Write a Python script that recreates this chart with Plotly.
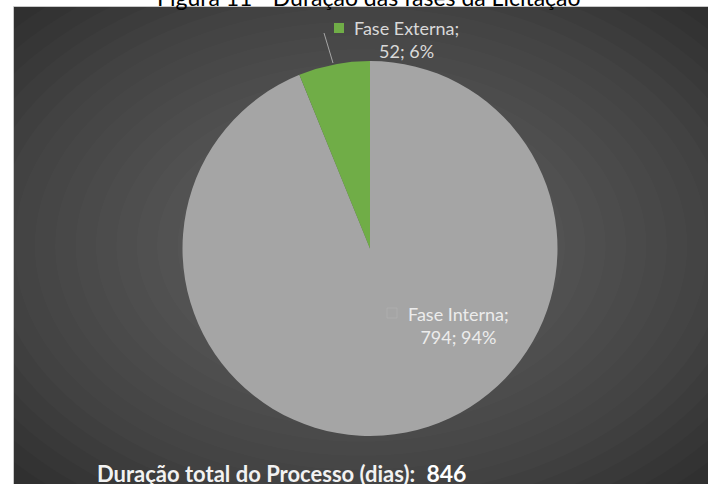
import plotly.graph_objects as go

# ---- data ----
categories = ["Fase Interna", "Fase Externa"]
values = [794, 52]
percent_labels = ["94%", "6%"]
slice_colors = ["#A5A5A5", "#70AD47"]
title_text = "Figura 11 - Duração das fases da Licitação"
total_label = "Duração total do Processo (dias):"
total_value = 846

W, H = 708, 484


def px(x):
    return x / W


def py(y):
    return 1 - y / H


fig = go.Figure()

cx, cy, r = 370, 248.5, 187.5
fig.add_trace(go.Pie(
    labels=categories,
    values=values,
    sort=False,
    direction="clockwise",
    rotation=0,
    marker=dict(colors=slice_colors, line=dict(width=0)),
    textinfo="none",
    hoverinfo="label+value+percent",
    showlegend=False,
    domain=dict(x=[px(cx - r), px(cx + r)], y=[py(cy + r), py(cy - r)]),
))

shapes = []
# dark chart area
x0, y0, x1, y1 = 14, 7, 730, 500
shapes.append(dict(type="rect", xref="paper", yref="paper", layer="below",
                   x0=px(x0), x1=px(x1), y0=py(y1), y1=py(y0),
                   fillcolor="#2d2d2d", line=dict(width=0)))
# radial gradient approximation (white over white margin is invisible)
mx, my = (14 + 708) / 2, (7 + 484) / 2
hw, hh = (708 - 14) / 2, (484 - 7) / 2
n = 24
for i in range(n):
    f = 1.41 * (1 - i / n)
    shapes.append(dict(type="circle", xref="paper", yref="paper", layer="below",
                       x0=px(mx - hw * f), x1=px(mx + hw * f),
                       y0=py(my + hh * f), y1=py(my - hh * f),
                       fillcolor="rgba(255,255,255,0.0145)", line=dict(width=0)))
# thin light border on top/left of chart area
shapes.append(dict(type="line", xref="paper", yref="paper", layer="below",
                   x0=px(13.5), x1=px(13.5), y0=py(500), y1=py(6.5),
                   line=dict(color="#c8c8c8", width=1)))
shapes.append(dict(type="line", xref="paper", yref="paper", layer="below",
                   x0=px(13.5), x1=px(730), y0=py(6.5), y1=py(6.5),
                   line=dict(color="#c8c8c8", width=1)))
# leader line for Fase Externa
shapes.append(dict(type="line", xref="paper", yref="paper",
                   x0=px(324), y0=py(33), x1=px(333), y1=py(63),
                   line=dict(color="#a6a6a6", width=1)))
# legend keys in data labels
shapes.append(dict(type="rect", xref="paper", yref="paper",
                   x0=px(334), x1=px(344), y0=py(33), y1=py(23),
                   fillcolor=slice_colors[1], line=dict(width=0)))
shapes.append(dict(type="rect", xref="paper", yref="paper",
                   x0=px(387), x1=px(397), y0=py(318), y1=py(308),
                   fillcolor=slice_colors[0], line=dict(color="#b5b5b5", width=0.5)))

font_fam = "Lato, 'Open Sans', sans-serif"
annotations = [
    dict(text=title_text, x=px(369), y=py(-3), xref="paper", yref="paper",
         showarrow=False, xanchor="center", yanchor="middle",
         font=dict(family=font_fam, size=23, color="#000000")),
    dict(text=f"{categories[1]};<br>{values[1]}; {percent_labels[1]}",
         x=px(406), y=py(40), xref="paper", yref="paper",
         showarrow=False, xanchor="center", yanchor="middle", align="center",
         font=dict(family=font_fam, size=18, color="#d9d9d9")),
    dict(text=f"{categories[0]};<br>{values[0]}; {percent_labels[0]}",
         x=px(458), y=py(325), xref="paper", yref="paper",
         showarrow=False, xanchor="center", yanchor="middle", align="center",
         font=dict(family=font_fam, size=18, color="#ececec")),
    dict(text=f"<b>{total_label}</b>  <b><span style='color:#ffffff;font-size:23px'>{total_value}</span></b>",
         x=px(95), y=py(473), xref="paper", yref="paper",
         showarrow=False, xanchor="left", yanchor="middle",
         font=dict(family=font_fam, size=22, color="#f2f2f2")),
]

fig.update_layout(
    width=W, height=H,
    margin=dict(l=0, r=0, t=0, b=0),
    paper_bgcolor="#ffffff",
    plot_bgcolor="#ffffff",
    shapes=shapes,
    annotations=annotations,
)

fig.write_html(
    "out.html",
    config={"displayModeBar": False},
    post_script=("document.body.style.margin='0';"
                 "document.body.style.overflow='hidden';"
                 "document.documentElement.style.background='#2d2d2d';"
                 "document.body.style.background='#2d2d2d';"),
)
